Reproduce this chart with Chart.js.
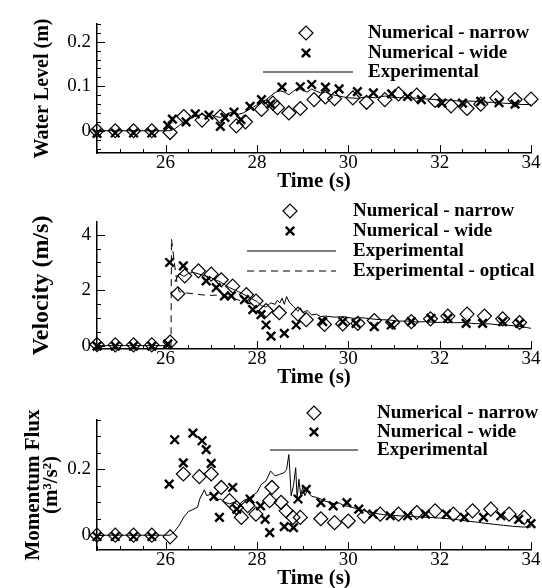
<!DOCTYPE html>
<html><head><meta charset="utf-8">
<script src="https://cdn.jsdelivr.net/npm/chart.js@4.4.1/dist/chart.umd.min.js"></script>
<style>
html,body{margin:0;padding:0;background:#fff;width:542px;height:588px;overflow:hidden}
.p{position:absolute;left:0;width:542px;height:196px}
canvas{display:block}
</style></head><body>
<div class="p" style="top:0"><canvas id="c1" width="542" height="196"></canvas></div>
<div class="p" style="top:196px"><canvas id="c2" width="542" height="196"></canvas></div>
<div class="p" style="top:392px"><canvas id="c3" width="542" height="196"></canvas></div>
<script>
// ---------- shared axis ----------
const xTickValues = [26, 28, 30, 32, 34];
const xTickLabels = ['26', '28', '30', '32', '34'];
const xTitle = 'Time (s)';
const seriesLabels = ['Numerical - narrow', 'Numerical - wide', 'Experimental'];
const opticalLabel = 'Experimental - optical';

// ---------- panel 1 : water level ----------
const wlYTicks = [0, 0.1, 0.2];
const wlYTickLabels = ['0', '0.1', '0.2'];
const wlTitle = 'Water Level (m)';
const wlNarrowT = [24.5, 24.9, 25.3, 25.7, 26.1, 26.4, 26.8, 27.2, 27.55, 27.75, 28.1, 28.35, 28.45, 28.7, 28.95, 29.25, 29.5, 29.7, 30.1, 30.4, 30.8, 31.1, 31.5, 31.9, 32.25, 32.6, 32.9, 33.25, 33.65, 34.0];
const wlNarrowV = [0, 0, 0, 0, -0.004, 0.032, 0.024, 0.032, 0.011, 0.02, 0.048, 0.062, 0.052, 0.04, 0.05, 0.07, 0.076, 0.072, 0.074, 0.064, 0.07, 0.083, 0.08, 0.068, 0.056, 0.05, 0.06, 0.074, 0.07, 0.071];
const wlWideT = [24.5, 24.9, 25.3, 25.7, 26.05, 26.15, 26.45, 26.65, 26.95, 27.2, 27.3, 27.5, 27.65, 27.85, 28.1, 28.3, 28.55, 28.95, 29.2, 29.5, 29.8, 30.2, 30.55, 30.95, 31.3, 31.6, 32.05, 32.5, 32.9, 33.3, 33.65];
const wlWideV = [-0.006, -0.005, -0.005, -0.005, 0.012, 0.026, 0.02, 0.038, 0.035, 0.01, 0.03, 0.042, 0.025, 0.055, 0.07, 0.06, 0.098, 0.099, 0.104, 0.098, 0.094, 0.088, 0.085, 0.083, 0.077, 0.07, 0.062, 0.062, 0.066, 0.063, 0.06];
const wlExpT = [24.5, 26.1, 26.2, 26.3, 26.4, 26.5, 26.6, 26.7, 26.8, 26.9, 27.0, 27.1, 27.2, 27.3, 27.4, 27.5, 27.6, 27.7, 27.8, 27.9, 28.0, 28.1, 28.2, 28.3, 28.4, 28.5, 28.6, 28.7, 28.8, 28.9, 29.0, 29.1, 29.2, 29.3, 29.4, 29.5, 29.6, 29.7, 29.8, 29.9, 30.0, 30.2, 30.4, 30.6, 30.8, 31.0, 31.2, 31.4, 31.6, 31.8, 32.0, 32.2, 32.4, 32.6, 32.8, 33.0, 33.2, 33.4, 33.6, 33.8, 34.0];
const wlExpV = [0, 0, 0.004, 0.012, 0.02, 0.026, 0.03, 0.034, 0.037, 0.033, 0.036, 0.032, 0.03, 0.035, 0.04, 0.043, 0.037, 0.04, 0.046, 0.052, 0.058, 0.064, 0.07, 0.078, 0.086, 0.09, 0.087, 0.081, 0.089, 0.096, 0.091, 0.087, 0.094, 0.089, 0.085, 0.087, 0.082, 0.08, 0.078, 0.076, 0.074, 0.073, 0.076, 0.074, 0.078, 0.075, 0.074, 0.074, 0.072, 0.071, 0.069, 0.069, 0.067, 0.067, 0.066, 0.064, 0.064, 0.062, 0.061, 0.059, 0.059];

// ---------- panel 2 : velocity ----------
const velYTicks = [0, 2, 4];
const velYTickLabels = ['0', '2', '4'];
const velTitle = 'Velocity (m/s)';
const velNarrowT = [24.5, 24.9, 25.3, 25.7, 26.1, 26.27, 26.42, 26.72, 27.0, 27.22, 27.47, 27.77, 27.98, 28.2, 28.49, 28.9, 29.08, 29.48, 29.88, 30.21, 30.57, 30.97, 31.38, 31.8, 32.18, 32.6, 32.98, 33.38, 33.75];
const velNarrowV = [0.06, 0.05, 0.05, 0.05, 0.15, 1.88, 2.52, 2.7, 2.58, 2.38, 2.15, 1.85, 1.62, 1.28, 1.2, 1.15, 0.95, 0.78, 0.8, 0.82, 0.92, 0.86, 0.88, 0.98, 1.08, 1.15, 1.08, 0.98, 0.85];
const velWideT = [24.5, 24.9, 25.3, 25.7, 26.05, 26.09, 26.39, 26.89, 27.11, 27.29, 27.44, 27.73, 27.91, 28.09, 28.2, 28.31, 28.6, 28.86, 29.44, 29.88, 30.17, 30.57, 30.94, 31.38, 31.81, 32.18, 32.58, 32.94, 33.38, 33.75];
const velWideV = [0, 0, 0, 0, 0.08, 3.0, 2.88, 2.34, 2.1, 1.8, 1.8, 1.67, 1.31, 1.13, 0.76, 0.36, 0.46, 0.76, 0.88, 0.88, 0.82, 0.7, 0.76, 0.88, 1.0, 1.0, 0.82, 0.82, 0.88, 0.82];
const velExpT = [24.5, 26.1, 26.15, 26.2, 26.3, 26.4, 26.5, 26.6, 26.8, 27.0, 27.2, 27.4, 27.6, 27.8, 28.0, 28.1, 28.2, 28.3, 28.4, 28.45, 28.5, 28.55, 28.6, 28.65, 28.7, 28.8, 28.9, 28.95, 29.0, 29.1, 29.2, 29.3, 29.4, 29.5, 29.7, 29.9, 30.1, 30.3, 30.5, 30.7, 30.9, 31.1, 31.3, 31.5, 31.7, 31.9, 32.1, 32.3, 32.5, 32.7, 32.9, 33.1, 33.3, 33.5, 33.7, 33.9, 34.0];
const velExpV = [0.02, 0.02, null, 2.3, 2.6, 2.5, 2.6, 2.65, 2.55, 2.45, 2.3, 2.1, 1.95, 1.78, 1.6, 1.45, 1.4, 1.55, 1.5, 1.65, 1.55, 1.72, 1.5, 1.78, 1.6, 1.42, 1.25, 1.38, 1.2, 1.28, 1.12, 1.15, 1.06, 1.08, 1.04, 1.06, 1.0, 1.02, 0.98, 0.95, 0.94, 0.9, 0.9, 0.87, 0.88, 0.85, 0.86, 0.84, 0.85, 0.82, 0.8, 0.8, 0.76, 0.75, 0.72, 0.67, 0.64];
const velOptT = [26.12, 26.13, 26.2, 26.25, 26.3, 26.4, 26.6, 26.8, 27.0, 27.2, 27.4, 27.6, 27.8, 28.0];
const velOptV = [0, 3.85, 2.9, 2.3, 1.95, 1.92, 1.88, 1.84, 1.82, 1.84, 1.75, 1.65, 1.55, 1.45];

// ---------- panel 3 : momentum flux ----------
const mfYTicks = [0, 0.2];
const mfYTickLabels = ['0', '0.2'];
const mfTitle = ['Momentum Flux', '(m\u00B3/s\u00B2)'];
const mfNarrowT = [24.5, 24.9, 25.3, 25.7, 26.1, 26.39, 26.74, 27.0, 27.22, 27.4, 27.55, 27.66, 27.8, 27.98, 28.28, 28.33, 28.53, 28.64, 28.79, 28.95, 29.4, 29.7, 30.0, 30.35, 30.7, 31.1, 31.5, 31.9, 32.3, 32.72, 33.12, 33.52, 33.85];
const mfNarrowV = [0, 0, 0, 0, -0.005, 0.186, 0.178, 0.186, 0.145, 0.105, 0.084, 0.054, 0.09, 0.064, 0.105, 0.145, 0.1, 0.074, 0.054, 0.054, 0.05, 0.038, 0.043, 0.058, 0.064, 0.064, 0.069, 0.074, 0.064, 0.074, 0.079, 0.064, 0.054];
const mfWideT = [24.5, 24.9, 25.3, 25.7, 26.08, 26.2, 26.39, 26.6, 26.8, 26.89, 27.0, 27.06, 27.18, 27.47, 27.56, 27.85, 28.08, 28.18, 28.28, 28.6, 28.8, 28.9, 29.08, 29.4, 29.67, 29.97, 30.23, 30.54, 30.92, 31.3, 31.69, 32.15, 32.54, 32.96, 33.34, 33.73, 34.0];
const mfWideV = [-0.004, -0.004, -0.004, -0.004, 0.155, 0.29, 0.22, 0.31, 0.287, 0.26, 0.218, 0.118, 0.054, 0.145, 0.079, 0.11, 0.089, 0.048, 0.008, 0.026, 0.023, 0.11, 0.139, 0.099, 0.089, 0.099, 0.079, 0.064, 0.059, 0.059, 0.064, 0.064, 0.054, 0.054, 0.059, 0.048, 0.035];
const mfExpT = [24.5, 26.1, 26.2, 26.3, 26.4, 26.5, 26.6, 26.7, 26.75, 26.85, 26.9, 27.0, 27.1, 27.2, 27.3, 27.4, 27.5, 27.6, 27.7, 27.8, 27.9, 28.0, 28.1, 28.2, 28.3, 28.4, 28.5, 28.6, 28.65, 28.7, 28.75, 28.8, 28.85, 28.88, 28.92, 28.96, 29.0, 29.05, 29.1, 29.2, 29.3, 29.4, 29.5, 29.6, 29.7, 29.8, 29.9, 30.0, 30.2, 30.4, 30.6, 30.8, 31.0, 31.2, 31.4, 31.6, 31.8, 32.0, 32.2, 32.4, 32.6, 32.8, 33.0, 33.2, 33.4, 33.6, 33.8, 34.0];
const mfExpV = [0, 0, 0.012, 0.03, 0.055, 0.072, 0.078, 0.085, 0.11, 0.138, 0.12, 0.125, 0.105, 0.11, 0.1, 0.095, 0.1, 0.09, 0.105, 0.11, 0.12, 0.13, 0.155, 0.165, 0.195, 0.18, 0.185, 0.19, 0.2, 0.245, 0.12, 0.15, 0.205, 0.11, 0.17, 0.12, 0.145, 0.12, 0.135, 0.118, 0.115, 0.11, 0.103, 0.1, 0.095, 0.098, 0.09, 0.088, 0.08, 0.072, 0.066, 0.062, 0.06, 0.058, 0.057, 0.055, 0.054, 0.052, 0.05, 0.047, 0.043, 0.04, 0.036, 0.033, 0.03, 0.027, 0.025, 0.025];

// ---------- helpers ----------
const SERIF = '"Liberation Serif", "Times New Roman", serif';
const pts = (T, V) => T.map((t, i) => ({ x: t, y: V[i] }));

function narrowDs(T, V) {
  return { label: seriesLabels[0], data: pts(T, V), showLine: false, pointStyle: 'rectRot',
    pointRadius: 7, pointBorderWidth: 1.2, pointBorderColor: '#000', pointBackgroundColor: 'rgba(0,0,0,0)', clip: false, order: 2 };
}
function wideDs(T, V) {
  return { label: seriesLabels[1], data: pts(T, V), showLine: false, pointStyle: 'crossRot',
    pointRadius: 6, pointBorderWidth: 2.4, pointBorderColor: '#000', clip: false, order: 1 };
}
function lineDs(label, T, V, dash) {
  return { label, data: pts(T, V), showLine: true, pointRadius: 0, borderColor: '#000', borderWidth: 1,
    borderDash: dash || [], tension: 0, spanGaps: false, order: 3 };
}

const inTicks = {
  id: 'inTicks',
  beforeDatasetsDraw(chart, args, o) {
    const { ctx, chartArea: a, scales: { x, y } } = chart;
    ctx.save(); ctx.strokeStyle = '#000'; ctx.lineWidth = 1;
    const nx = Math.round((x.max - o.xStart) / o.xStep);
    for (let i = 0; i <= nx; i++) {
      const v = o.xStart + i * o.xStep;
      const major = xTickValues.some(m => Math.abs(m - v) < 1e-6);
      const p = Math.round(x.getPixelForValue(v)) + 0.5;
      ctx.beginPath(); ctx.moveTo(p, a.bottom); ctx.lineTo(p, a.bottom - (major ? 8 : 4)); ctx.stroke();
    }
    const ny = Math.floor((y.max - o.yStart) / o.yStep + 1e-6);
    for (let i = 0; i <= ny; i++) {
      const v = o.yStart + i * o.yStep;
      const major = o.yMajor.some(m => Math.abs(m - v) < 1e-6);
      const p = Math.round(y.getPixelForValue(v)) + 0.5;
      ctx.beginPath(); ctx.moveTo(a.left, p); ctx.lineTo(a.left + (major ? 8 : 4), p); ctx.stroke();
    }
    ctx.restore();
  }
};

const panelLegend = {
  id: 'panelLegend',
  afterDraw(chart, args, o) {
    const ctx = chart.ctx;
    ctx.save();
    ctx.fillStyle = '#000'; ctx.strokeStyle = '#000';
    ctx.font = 'bold 19px ' + SERIF;
    ctx.textBaseline = 'middle'; ctx.textAlign = 'left';
    chart.data.datasets.forEach((ds, i) => {
      const y = o.rows[i];
      const mx = o.markerX;
      ctx.beginPath();
      if (ds.pointStyle === 'rectRot') {
        const r = 7; ctx.lineWidth = 1.2;
        ctx.moveTo(mx - r, y); ctx.lineTo(mx, y - r); ctx.lineTo(mx + r, y); ctx.lineTo(mx, y + r); ctx.closePath(); ctx.stroke();
      } else if (ds.pointStyle === 'crossRot') {
        const r = 4.2; ctx.lineWidth = 2.4;
        ctx.moveTo(mx - r, y - r); ctx.lineTo(mx + r, y + r); ctx.moveTo(mx + r, y - r); ctx.lineTo(mx - r, y + r); ctx.stroke();
      } else {
        ctx.lineWidth = 1.2; ctx.setLineDash(ds.borderDash || []);
        ctx.moveTo(o.x1, y); ctx.lineTo(o.x2, y); ctx.stroke(); ctx.setLineDash([]);
      }
      ctx.fillText(ds.label, o.textX, y);
    });
    ctx.restore();
  }
};

function makePanel(id, p) {
  new Chart(document.getElementById(id), {
    type: 'scatter',
    data: { datasets: p.datasets },
    plugins: [inTicks, panelLegend],
    options: {
      responsive: false, animation: false, events: [], devicePixelRatio: 1,
      layout: { padding: { top: p.top, right: 11, bottom: 0, left: 0 } },
      plugins: {
        legend: { display: false }, tooltip: { enabled: false },
        inTicks: { xStart: 24.5, xStep: 0.5, yStart: p.yMinorStart, yStep: p.yMinorStep, yMajor: p.yTicks },
        panelLegend: p.legend
      },
      scales: {
        x: {
          type: 'linear', min: 24.5, max: 34,
          afterFit(s) { s.height = p.xHeight; },
          afterBuildTicks(s) { s.ticks = xTickValues.map(v => ({ value: v })); },
          ticks: { color: '#000', padding: 0, maxRotation: 0, autoSkip: false,
            font: { family: SERIF, size: 19, lineHeight: 1.1 },
            callback: (v) => xTickLabels[xTickValues.indexOf(v)] },
          grid: { display: false, drawTicks: false },
          border: { display: true, color: '#000', width: 1.5 },
          title: { display: true, text: xTitle, color: '#000',
            font: { family: SERIF, size: 21, weight: 'bold', lineHeight: 1.2 },
            padding: { top: 0, bottom: p.xTitlePad } }
        },
        y: {
          type: 'linear', min: p.yMin, max: p.yMax,
          afterFit(s) { s.width = 97; },
          afterBuildTicks(s) { s.ticks = p.yTicks.map(v => ({ value: v })); },
          ticks: { color: '#000', padding: 6, font: { family: SERIF, size: 19 },
            callback: (v) => p.yLabels[p.yTicks.indexOf(v)] },
          grid: { display: false, drawTicks: false },
          border: { display: true, color: '#000', width: 1.5 },
          title: { display: true, text: p.yTitle, color: '#000',
            font: { family: SERIF, size: p.yTitleSize, weight: 'bold', lineHeight: p.yTitleLH },
            padding: { top: p.yTitlePad, bottom: 0 } }
        }
      }
    }
  });
}

makePanel('c1', {
  datasets: [narrowDs(wlNarrowT, wlNarrowV), wideDs(wlWideT, wlWideV), lineDs(seriesLabels[2], wlExpT, wlExpV)],
  top: 24, xHeight: 43, xTitlePad: 1.4,
  yMin: -0.05, yMax: 0.24, yTicks: wlYTicks, yLabels: wlYTickLabels, yMinorStart: -0.04, yMinorStep: 0.02,
  yTitle: wlTitle, yTitleSize: 20, yTitleLH: 1.2, yTitlePad: 31,
  legend: { markerX: 306, x1: 263, x2: 353, textX: 368, rows: [33, 53, 72] }
});
makePanel('c2', {
  datasets: [narrowDs(velNarrowT, velNarrowV), wideDs(velWideT, velWideV), lineDs(seriesLabels[2], velExpT, velExpV), lineDs(opticalLabel, velOptT, velOptV, [7, 5])],
  top: 26, xHeight: 43, xTitlePad: 1.4,
  yMin: -0.1, yMax: 4.45, yTicks: velYTicks, yLabels: velYTickLabels, yMinorStart: 0, yMinorStep: 0.5,
  yTitle: velTitle, yTitleSize: 24, yTitleLH: 1.2, yTitlePad: 27.6,
  legend: { markerX: 290, x1: 247, x2: 336, textX: 353, rows: [15, 35, 55, 75] }
});
makePanel('c3', {
  datasets: [narrowDs(mfNarrowT, mfNarrowV), wideDs(mfWideT, mfWideV), lineDs(seriesLabels[2], mfExpT, mfExpV)],
  top: 28, xHeight: 38, xTitlePad: -3.6,
  yMin: -0.045, yMax: 0.35, yTicks: mfYTicks, yLabels: mfYTickLabels, yMinorStart: 0, yMinorStep: 0.05,
  yTitle: mfTitle, yTitleSize: 21, yTitleLH: 0.85, yTitlePad: 25,
  legend: { markerX: 314, x1: 270, x2: 358, textX: 377, rows: [21, 40, 58] }
});
</script>
</body></html>
